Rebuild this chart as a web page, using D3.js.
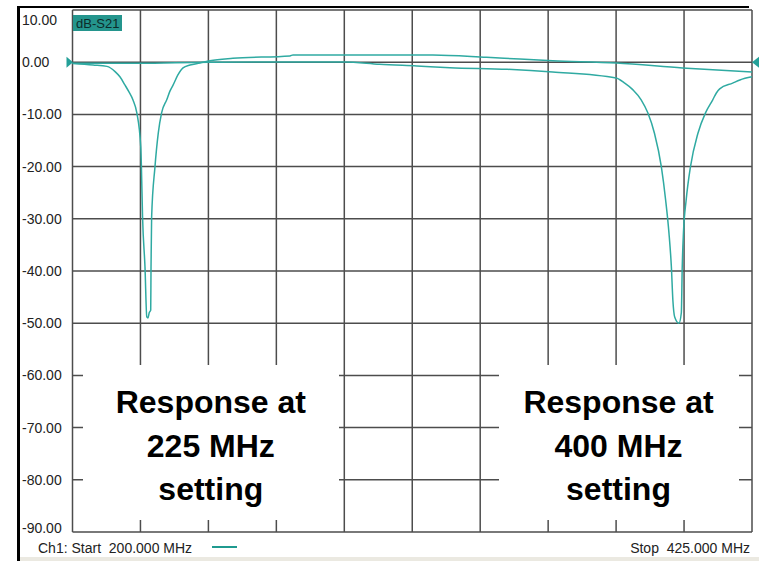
<!DOCTYPE html>
<html>
<head>
<meta charset="utf-8">
<script src="https://cdn.jsdelivr.net/npm/d3@7/dist/d3.min.js"></script>
<style>
  html, body { margin: 0; padding: 0; background: #fff; }
  svg { display: block; }
</style>
</head>
<body>
<svg id="chart" width="759" height="561"></svg>
<script>
// ---- Data ----
const freqTicks = [200, 222.5, 245, 267.5, 290, 312.5, 335, 357.5, 380, 402.5, 425];
const dbTicks = [10, 0, -10, -20, -30, -40, -50, -60, -70, -80, -90];
const dbLabels = ["10.00", "0.00", "-10.00", "-20.00", "-30.00", "-40.00", "-50.00", "-60.00", "-70.00", "-80.00", "-90.00"];

// Trace tuned to 225 MHz
const trace225Freq = [200, 206.8, 211.4, 214.1, 215.7, 217.4, 218.7, 220.0, 221.3, 222.6, 222.8, 223.2, 224.0, 224.6, 225.0, 225.4, 225.9, 226.0, 226.2, 227.3, 228.4, 229.5, 231.2, 232.3, 233.3, 234.9, 236.6, 238.9, 242.2, 245.5, 253.1, 272.0, 273.0, 319.3, 337.1, 348.1, 359.0, 380.1, 402.0, 425];
const trace225Db   = [-0.25, -0.54, -0.8, -1.8, -2.8, -4.4, -5.7, -7.2, -9.7, -16.2, -19.7, -29.7, -39.2, -48.8, -49.0, -48.0, -47.5, -39.2, -29.7, -20.1, -13.6, -9.7, -7.2, -5.5, -4.4, -2.45, -1.1, -0.54, -0.15, 0.29, 0.75, 1.2, 1.4, 1.4, 0.94, 0.6, 0.29, -0.15, -1.1, -1.9];

// Trace tuned to 400 MHz
const trace400Freq = [200, 222, 245, 290, 301.7, 314, 325, 344, 359, 380, 382.8, 385.6, 388.3, 390.5, 392.7, 395.0, 396.4, 397.5, 398.3, 398.8, 399.4, 400.8, 401.6, 401.9, 402.3, 403.2, 404.6, 407.1, 409.6, 412.0, 413.2, 414.3, 418.6, 421.0, 425];
const trace400Db   = [-0.2, -0.2, 0, 0.05, -0.4, -0.73, -1.05, -1.36, -1.88, -3.03, -4.0, -5.3, -7.2, -9.7, -13.6, -20.1, -26.4, -32.7, -39.2, -45.6, -48.8, -50.0, -48.0, -39.2, -32.7, -26.4, -20.1, -13.6, -9.7, -7.2, -5.9, -5.1, -4.0, -3.4, -2.8];

const annotations = [
  { centerMHz: 245.8, lines: ["Response at", "225 MHz", "setting"] },
  { centerMHz: 380.8, lines: ["Response at", "400 MHz", "setting"] }
];
const startLabel = "Ch1: Start  200.000 MHz";
const stopLabel = "Stop  425.000 MHz";
const traceName = "dB-S21";

// ---- Layout ----
const svg = d3.select("#chart");
const pL = 72.5, pR = 752, pT = 10, pB = 532;
const x = d3.scaleLinear().domain([200, 425]).range([pL, pR]);
const y = d3.scaleLinear().domain([-90, 10]).range([pB, pT]);

const gridColor = "#4d4d4d";
const traceColor = "#2faaa2";
const labelFont = "'Liberation Sans', Arial, sans-serif";

svg.append("rect").attr("width", 759).attr("height", 561).attr("fill", "#fff");

// Grid
const grid = svg.append("g");
grid.selectAll("line.v").data(freqTicks).join("line").attr("class", "v")
  .attr("x1", d => x(d)).attr("x2", d => x(d))
  .attr("y1", pT).attr("y2", pB)
  .attr("stroke", gridColor).attr("stroke-width", 1.5);
grid.selectAll("line.h").data(dbTicks).join("line").attr("class", "h")
  .attr("x1", pL).attr("x2", pR)
  .attr("y1", d => y(d)).attr("y2", d => y(d))
  .attr("stroke", gridColor).attr("stroke-width", 1.5);

// White annotation boxes (cover grid)
const boxTop = 365, boxBottom = 520;
const boxes = [[83, 339], [499, 739]];
svg.selectAll("rect.box").data(boxes).join("rect").attr("class", "box")
  .attr("x", d => d[0]).attr("y", boxTop)
  .attr("width", d => d[1] - d[0]).attr("height", boxBottom - boxTop)
  .attr("fill", "#fff");

// Y labels
svg.append("g").selectAll("text").data(dbTicks).join("text")
  .attr("x", 22)
  .attr("y", d => Math.max(20, Math.min(528, y(d))) + 5)
  .attr("font-family", labelFont).attr("font-size", 14)
  .attr("fill", "#222")
  .text((d, i) => dbLabels[i]);

// Traces
const line = d3.line().curve(d3.curveMonotoneX).x(d => x(d[0])).y(d => y(d[1]));
const t225 = trace225Freq.map((f, i) => [f, trace225Db[i]]);
const t400 = trace400Freq.map((f, i) => [f, trace400Db[i]]);
[t400, t225].forEach(t => {
  svg.append("path").datum(t).attr("d", line)
    .attr("fill", "none").attr("stroke", traceColor)
    .attr("stroke-width", 1.5).attr("stroke-linejoin", "round");
});

// Reference markers
const y0 = y(0);
svg.append("path")
  .attr("d", `M${pL - 6},${y0 - 5.5} L${pL + 0.5},${y0} L${pL - 6},${y0 + 5.5} Z`)
  .attr("fill", "#24a098");
svg.append("path")
  .attr("d", `M${pR + 7},${y0 - 5.5} L${pR},${y0} L${pR + 7},${y0 + 5.5} Z`)
  .attr("fill", "#24a098");

// Trace name label
svg.append("rect").attr("x", 73).attr("y", 15).attr("width", 49).attr("height", 16)
  .attr("fill", "#24958d");
svg.append("text").attr("x", 76).attr("y", 28)
  .attr("font-family", labelFont).attr("font-size", 13).attr("fill", "#0d2b2a")
  .text(traceName);

// Annotation text
annotations.forEach(a => {
  const g = svg.append("g");
  const cx = x(a.centerMHz);
  const baselines = [413, 457, 500];
  a.lines.forEach((t, i) => {
    g.append("text").attr("x", cx).attr("y", baselines[i])
      .attr("text-anchor", "middle")
      .attr("font-family", labelFont).attr("font-weight", "bold")
      .attr("font-size", 32).attr("fill", "#000")
      .text(t);
  });
});

// Frame
svg.append("rect").attr("x", 17).attr("y", 6).attr("width", 3).attr("height", 555).attr("fill", "#000");
svg.append("rect").attr("x", 17).attr("y", 6).attr("width", 732).attr("height", 2).attr("fill", "#000");

// Footer
svg.append("text").attr("x", 38).attr("y", 553)
  .attr("font-family", labelFont).attr("font-size", 14).attr("fill", "#222")
  .style("white-space", "pre")
  .text(startLabel);
svg.append("line").attr("x1", 212).attr("x2", 237).attr("y1", 547).attr("y2", 547)
  .attr("stroke", "#1f9a8f").attr("stroke-width", 2);
svg.append("text").attr("x", 750).attr("y", 553).attr("text-anchor", "end")
  .attr("font-family", labelFont).attr("font-size", 14).attr("fill", "#222")
  .style("white-space", "pre")
  .text(stopLabel);
svg.append("rect").attr("x", 20).attr("y", 557).attr("width", 739).attr("height", 4).attr("fill", "#ebe9e1");
</script>
</body>
</html>
